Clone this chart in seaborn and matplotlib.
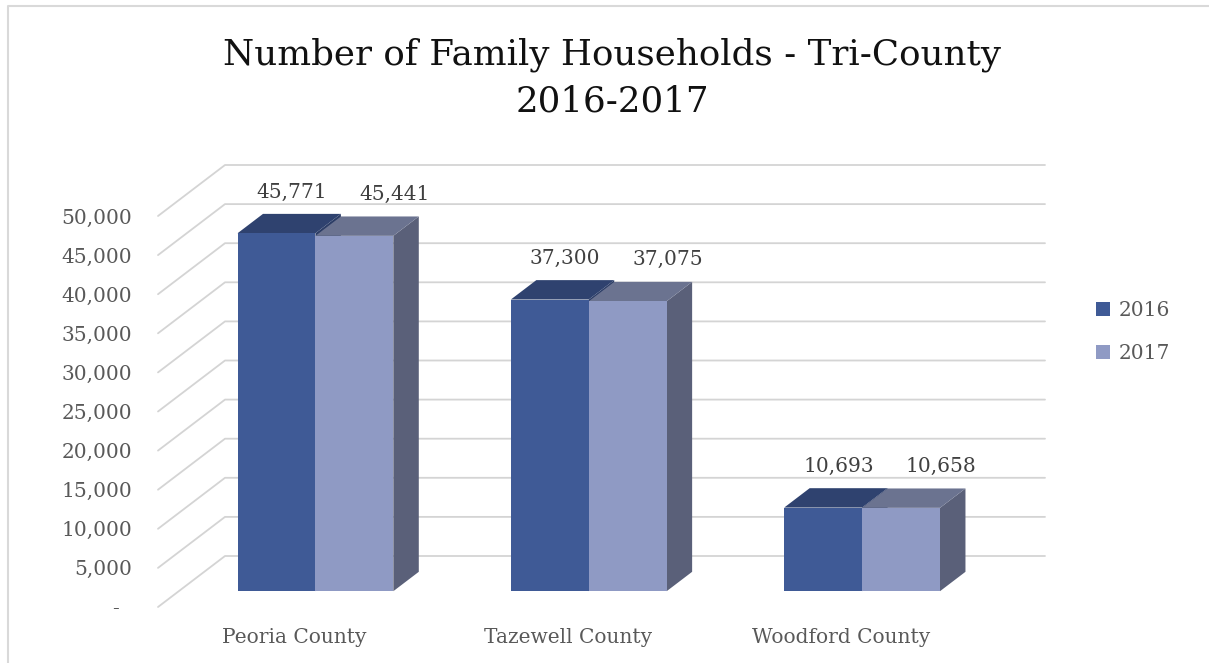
import matplotlib

matplotlib.use("Agg")
import matplotlib.pyplot as plt
import pandas as pd
import seaborn as sns
from matplotlib.lines import Line2D
from matplotlib.patches import Polygon

counties = ["Peoria County", "Tazewell County", "Woodford County"]
years = ["2016", "2017"]
households_2016 = [45771, 37300, 10693]
households_2017 = [45441, 37075, 10658]
y_ticks = list(range(0, 50001, 5000))

front_colors = ["#3F5A96", "#8F9AC4"]
top_colors = ["#2F426F", "#6B7390"]
side_colors = ["#2C3D66", "#5A6079"]

W, H = 1209, 663
sns.set_style("white")
plt.rcParams["font.family"] = ["DejaVu Serif"]

frame = pd.DataFrame(
    {
        "county": counties * 2,
        "year": [years[0]] * 3 + [years[1]] * 3,
        "households": households_2016 + households_2017,
    }
)

fig = plt.figure(figsize=(W / 100, H / 100), dpi=100)
ax = fig.add_axes([158 / W, (H - 607) / H, 820 / W, 391 / H])

sns.barplot(
    data=frame,
    x="county",
    y="households",
    hue="year",
    palette=front_colors,
    width=0.57,
    gap=0,
    saturation=1,
    linewidth=0,
    ax=ax,
)
ax.set_xlim(-0.5, 2.5)
ax.set_ylim(0, 50000)

# oblique depth: full wall depth in data units, plus where the bars sit
DX = 67 / 820 * 3
DY = 51 / 391 * 50000
d0, depth = 0.31, 0.38

# walls: slanted side-wall gridlines, horizontal back-wall gridlines
for v in y_ticks:
    ax.plot([-0.5, -0.5 + DX, 2.5 + DX], [v, v + DY, v + DY],
            color="#D4D4D4", lw=1.3, zorder=0.5, clip_on=False)

for i, container in enumerate(ax.containers):
    for patch in container:
        x0, w, h = patch.get_x() + d0 * DX, patch.get_width(), patch.get_height()
        y0 = d0 * DY
        patch.set_x(x0)
        patch.set_y(y0)
        patch.set_zorder(2 + i + 0.2)
        patch.set_clip_on(False)
        top = y0 + h
        ax.add_patch(Polygon(
            [(x0, top), (x0 + w, top), (x0 + w + depth * DX, top + depth * DY),
             (x0 + depth * DX, top + depth * DY)],
            closed=True, facecolor=top_colors[i], lw=0, zorder=2 + i + 0.1, clip_on=False))
        ax.add_patch(Polygon(
            [(x0 + w, y0), (x0 + w + depth * DX, y0 + depth * DY),
             (x0 + w + depth * DX, top + depth * DY), (x0 + w, top)],
            closed=True, facecolor=side_colors[i], lw=0, zorder=2 + i, clip_on=False))
        offset = (11, 29.5) if i == 0 else (29, 30)
        ax.annotate(f"{int(h):,}", (x0 + w / 2, top), xytext=offset,
                    textcoords="offset points", ha="center", va="center",
                    fontsize=14.5, color="#404040", zorder=5)

ax.set_yticks(y_ticks)
ax.set_yticklabels(["-  " if v == 0 else f"{v:,}" for v in y_ticks])
ax.tick_params(axis="y", length=0, pad=18.7, labelsize=14.5, labelcolor="#595959")
ax.tick_params(axis="x", length=0, pad=15, labelsize=14.5, labelcolor="#595959")
ax.set_xlabel("")
ax.set_ylabel("")
sns.despine(ax=ax, left=True, bottom=True)
ax.grid(False)

handles, labels = ax.get_legend_handles_labels()
ax.legend_.remove()
fig.legend(handles, labels, loc="center left", bbox_to_anchor=(1078 / W, 1 - 332 / H),
           frameon=False, fontsize=14.5, labelcolor="#595959", handlelength=0.7,
           handleheight=0.7, handletextpad=0.4, labelspacing=1.2)

fig.text(612 / W, 1 - 78 / H, "Number of Family Households - Tri-County\n2016-2017",
         ha="center", va="center", fontsize=25.7, color="#111111", linespacing=1.5)

# chart frame (left and top edges visible)
fig.add_artist(Line2D([8 / W, 8 / W, 1], [0, 1 - 6 / H, 1 - 6 / H],
                      transform=fig.transFigure, color="#D9D9D9", lw=1.5))

fig.savefig("out.png", dpi=100)
